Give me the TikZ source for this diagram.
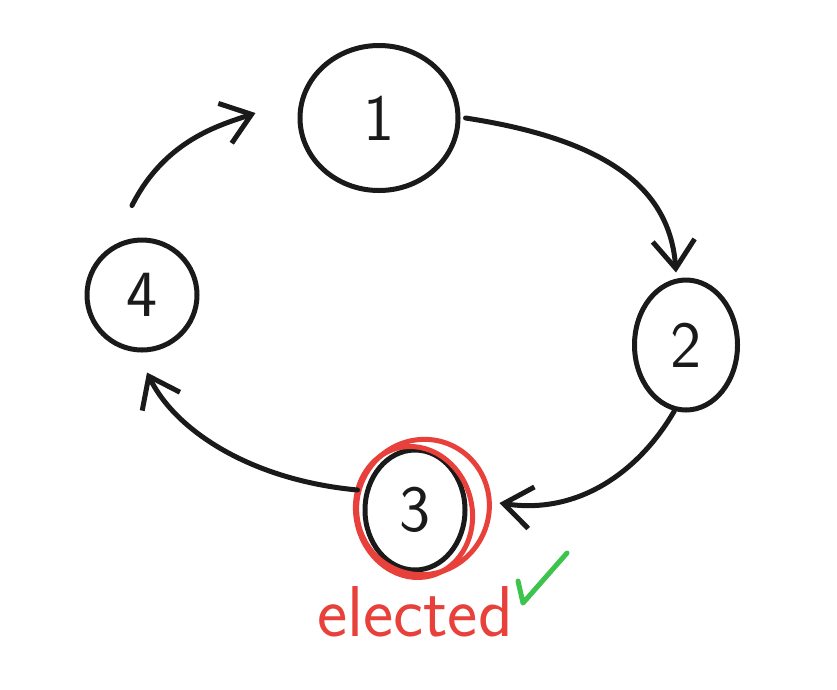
\documentclass[tikz,border=0pt]{standalone}
\usetikzlibrary{shapes.geometric,arrows.meta}
\definecolor{inkred}{HTML}{E8403A}
\definecolor{inkgreen}{HTML}{3CC44C}
\definecolor{ink}{HTML}{1A1A1A}
\begin{document}
\begin{tikzpicture}[x=1pt,y=-1pt,
  line cap=round, line join=round,
  pen/.style={draw=ink, line width=5pt},
  bubble/.style={pen, ellipse, inner sep=0pt, font=\sffamily\fontsize{66}{70}\selectfont, text=ink},
  link/.style={pen, -{Straight Barb[length=28pt,width=42pt,line width=5pt]}}
]
\useasboundingbox (0,0) rectangle (837,689);
\node[bubble, minimum width=158pt, minimum height=145pt] (n1) at (379,118) {1};
\node[bubble, minimum width=103pt, minimum height=130pt] (n2) at (686,345) {2};
\node[bubble, minimum width=100pt, minimum height=120pt] (n3) at (415,510) {3};
\node[bubble, minimum width=110pt, minimum height=110pt] (n4) at (142,295) {4};
% red highlight around 3
\draw[inkred, line width=5pt] (423,507) ellipse [x radius=66, y radius=68, rotate=-25];
\draw[inkred, line width=5pt] (414,512) ellipse [x radius=58, y radius=66, rotate=15];
% connectors
\draw[link] ([xshift=5pt]n1.east) .. controls (610,140) and (670,190) .. ([xshift=-10pt,yshift=5pt]n2.north);
\draw[link] (n2.-100) .. controls (640,470) and (580,515) .. ([xshift=32pt,yshift=7pt]n3.east);
\draw[link] ([xshift=-5pt,yshift=20pt]n3.west) .. controls (250,480) and (175,430) .. ([xshift=5pt,yshift=-20pt]n4.south);
\draw[link] ([xshift=-10pt,yshift=32pt]n4.north) .. controls (165,140) and (220,125) .. ([xshift=-42pt,yshift=5pt]n1.west);
% label
\node[text=inkred, font=\sffamily\fontsize{72}{76}\selectfont] (lab) at (415,612) {elected};
\draw[draw=inkgreen, line width=5pt] (518,581) -- (523,603) -- (567,553);
\end{tikzpicture}
\end{document}
